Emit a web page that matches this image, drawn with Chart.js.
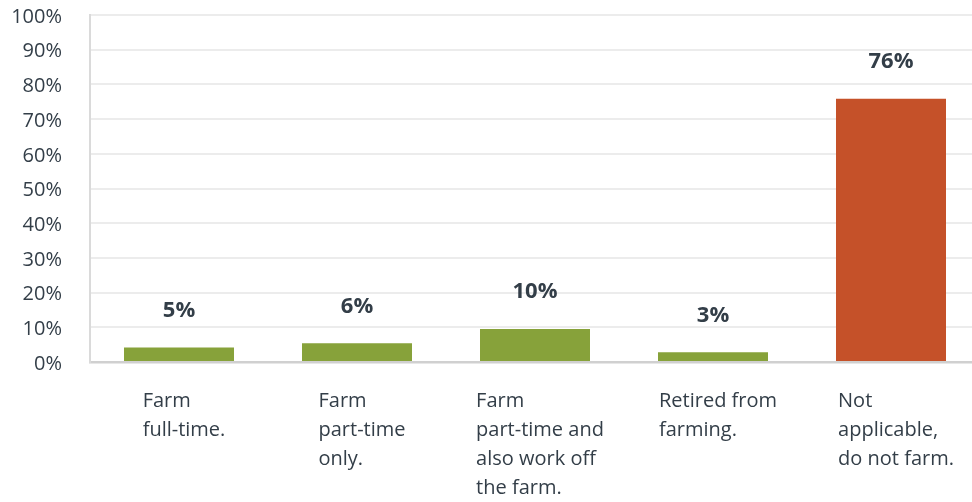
<!DOCTYPE html>
<html>
<head>
<meta charset="utf-8">
<script src="https://cdn.jsdelivr.net/npm/chart.js@4/dist/chart.umd.min.js"></script>
<style>
  html, body { margin: 0; padding: 0; background: #ffffff; overflow: hidden; }
  #wrap { position: relative; width: 980px; height: 502px; }
</style>
</head>
<body>
<div id="wrap"><canvas id="c"></canvas></div>
<script>
// ---- data ----
const categories = [
  ["Farm", "full-time."],
  ["Farm", "part-time", "only."],
  ["Farm", "part-time and", "also work off", "the farm."],
  ["Retired from", "farming."],
  ["Not", "applicable,", "do not farm."]
];
const values = [4.2, 5.4, 9.5, 2.8, 75.9];
const valueLabels = ["5%", "6%", "10%", "3%", "76%"];
const barColors = ["#87a23a", "#87a23a", "#87a23a", "#87a23a", "#c55129"];
const yTickLabels = ["0%", "10%", "20%", "30%", "40%", "50%", "60%", "70%", "80%", "90%", "100%"];

const TEXT = "#333e48";
const FONT = "'Open Sans', 'Noto Sans', sans-serif";

const valueLabelPlugin = {
  id: "valueLabels",
  afterDatasetsDraw(chart) {
    const ctx = chart.ctx;
    const meta = chart.getDatasetMeta(0);
    ctx.save();
    ctx.font = "bold 22px " + FONT;
    ctx.fillStyle = TEXT;
    ctx.textAlign = "center";
    ctx.textBaseline = "middle";
    meta.data.forEach((bar, i) => {
      ctx.fillText(valueLabels[i], bar.x, bar.y - 37);
    });
    ctx.restore();
  }
};

const xLabelPlugin = {
  id: "xLabels",
  afterDraw(chart) {
    const ctx = chart.ctx;
    const xs = chart.scales.x;
    ctx.save();
    ctx.font = "20px " + FONT;
    ctx.fillStyle = TEXT;
    ctx.textAlign = "left";
    ctx.textBaseline = "alphabetic";
    categories.forEach((lines, i) => {
      const cx = xs.getPixelForValue(i);
      const w = Math.max(...lines.map(l => ctx.measureText(l).width));
      const left = cx + 5 - w / 2;
      lines.forEach((l, j) => {
        ctx.fillText(l, left, xs.top + 45 + j * 29);
      });
    });
    ctx.restore();
  }
};

new Chart(document.getElementById("c"), {
  type: "bar",
  data: {
    labels: categories,
    datasets: [{
      data: values,
      backgroundColor: barColors,
      borderWidth: 0,
      barPercentage: 0.618,
      categoryPercentage: 1.0
    }]
  },
  options: {
    responsive: true,
    maintainAspectRatio: false,
    animation: false,
    devicePixelRatio: 1,
    layout: { padding: { top: 15, right: 0, bottom: 0, left: 0 } },
    plugins: {
      legend: { display: false },
      tooltip: { enabled: false }
    },
    scales: {
      x: {
        grid: { display: false, drawTicks: false },
        border: { display: true, color: "#d0d0d0", width: 2.5 },
        ticks: { display: false },
        afterFit(scale) { scale.height = 140; }
      },
      y: {
        min: 0,
        max: 100,
        ticks: {
          stepSize: 10,
          padding: 28,
          labelOffset: 2,
          color: TEXT,
          font: { family: FONT, size: 20 },
          callback: (v, i) => yTickLabels[i]
        },
        grid: { color: "#ececec", lineWidth: 2, drawTicks: false },
        border: { display: true, color: "#dadada", width: 2 },
        afterFit(scale) {
          scale.width = 90;
          scale.paddingTop = 0;
          scale.paddingBottom = 0;
        }
      }
    }
  },
  plugins: [valueLabelPlugin, xLabelPlugin]
});
</script>
</body>
</html>
